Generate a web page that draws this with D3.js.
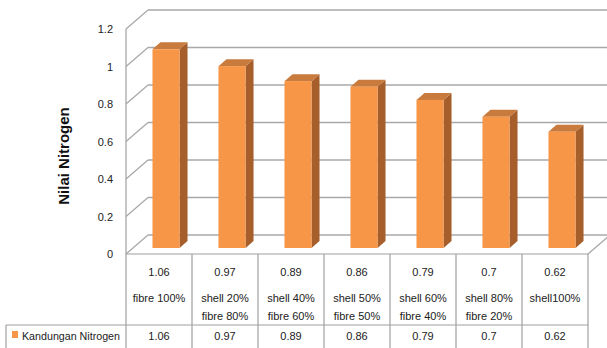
<!DOCTYPE html>
<html><head><meta charset="utf-8">
<script src="https://cdn.jsdelivr.net/npm/d3@7"></script>
<style>body{margin:0;background:#fff}svg{display:block}</style>
</head><body>
<svg id="c" width="607" height="348"></svg>
<script>
const categories = [["fibre 100%"],["shell 20%","fibre 80%"],["shell 40%","fibre 60%"],["shell 50%","fibre 50%"],["shell 60%","fibre 40%"],["shell 80%","fibre 20%"],["shell100%"]];
const values = [1.06, 0.97, 0.89, 0.86, 0.79, 0.7, 0.62];
const valueLabels = ["1.06","0.97","0.89","0.86","0.79","0.7","0.62"];
const yTicks = [0, 0.2, 0.4, 0.6, 0.8, 1, 1.2];
const seriesName = "Kandungan Nitrogen";
const axisTitle = "Nilai Nitrogen";

const svg = d3.select("#c");
const font = "'Liberation Sans',Arial,sans-serif";
const grid = "#a8a8a8", tline = "#a0a0a0";
const left = 126, right = 588, y0 = 254, yTop = 29;
const wdx = 22, wdy = -19;      // wall depth
const bdx = 7, bdy = -6;        // bar front offset
const bkx = 8, bky = -7;        // bar depth

const x = d3.scaleBand().domain(d3.range(values.length)).range([left, right]).paddingInner(0).paddingOuter(0);
const y = d3.scaleLinear().domain([0, 1.2]).range([y0, yTop]);

// walls / gridlines
const g = svg.append("g").attr("fill","none").attr("stroke",grid).attr("stroke-width",1.3);
yTicks.forEach(t => {
  g.append("line").attr("x1",left).attr("y1",y(t)).attr("x2",left+wdx).attr("y2",y(t)+wdy);
  g.append("line").attr("x1",left+wdx).attr("y1",y(t)+wdy).attr("x2",right+wdx+10).attr("y2",y(t)+wdy);
});
g.append("line").attr("x1",left).attr("y1",y(0)).attr("x2",left).attr("y2",y(1.2));
g.append("line").attr("x1",right).attr("y1",y(0)).attr("x2",right+wdx).attr("y2",y(0)+wdy);

// y tick labels
svg.append("g").selectAll("text").data(yTicks).join("text")
  .attr("x",113).attr("y",d=>y(d)+4).attr("text-anchor","end")
  .attr("font-family",font).attr("font-size",11).attr("fill","#222")
  .text(d=>d3.format("")(d));

// axis title
svg.append("text").attr("transform","translate(69,156) rotate(-90)")
  .attr("text-anchor","middle").attr("font-family",font)
  .attr("font-weight","bold").attr("font-size",15).attr("fill","#111").text(axisTitle);

// bars
const bw = x.bandwidth()*0.41;
const bars = svg.append("g").selectAll("g").data(values).join("g");
bars.each(function(v,i){
  const gx = x(i) + (x.bandwidth()-bw)/2 + bdx;
  const yb = y(0) + bdy, yt = y(v) + bdy;
  const s = d3.select(this);
  s.append("polygon").attr("fill","#a65e2b")
    .attr("points",[[gx+bw,yb],[gx+bw+bkx,yb+bky],[gx+bw+bkx,yt+bky],[gx+bw,yt]].join(" "));
  s.append("polygon").attr("fill","#c97a3d")
    .attr("points",[[gx,yt],[gx+bkx,yt+bky],[gx+bw+bkx,yt+bky],[gx+bw,yt]].join(" "));
  s.append("rect").attr("x",gx).attr("y",yt).attr("width",bw).attr("height",yb-yt).attr("fill","#f79646");
});

// data table
const t = svg.append("g").attr("stroke",tline).attr("stroke-width",1.2);
t.append("line").attr("x1",left).attr("y1",y0).attr("x2",right).attr("y2",y0);
t.append("line").attr("x1",6).attr("y1",325).attr("x2",right).attr("y2",325);
t.append("line").attr("x1",6).attr("y1",325).attr("x2",6).attr("y2",348);
d3.range(values.length+1).forEach(i=>{
  const xx = i<values.length ? x(i) : right;
  t.append("line").attr("x1",xx).attr("y1",y0).attr("x2",xx).attr("y2",348);
});
const tx = svg.append("g").attr("font-family",font).attr("font-size",11).attr("fill","#222").attr("text-anchor","middle");
values.forEach((v,i)=>{
  const cx = x(i)+x.bandwidth()/2;
  tx.append("text").attr("x",cx).attr("y",276).text(valueLabels[i]);
  categories[i].forEach((l,j)=>tx.append("text").attr("x",cx).attr("y",302+j*18).text(l));
  tx.append("text").attr("x",cx).attr("y",340).text(valueLabels[i]);
});
svg.append("rect").attr("x",12).attr("y",331).attr("width",6).attr("height",7).attr("fill","#f79646");
svg.append("text").attr("x",22).attr("y",340).attr("font-family",font).attr("font-size",11)
  .attr("textLength",98).attr("lengthAdjust","spacingAndGlyphs").attr("fill","#222").text(seriesName);
</script>
</body></html>
